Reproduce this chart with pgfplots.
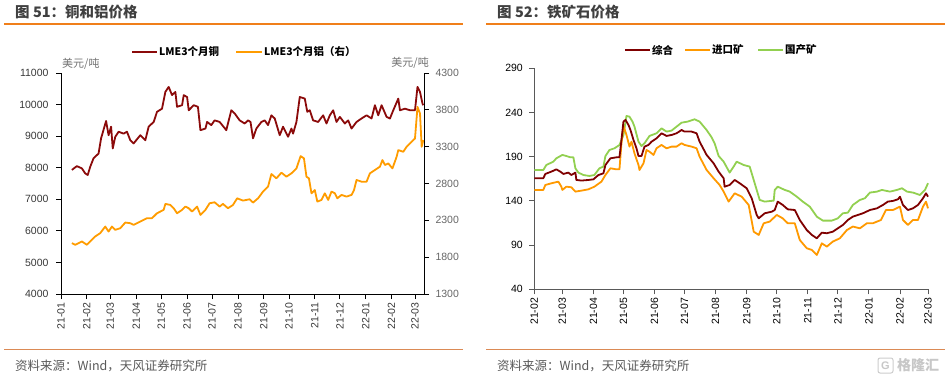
\documentclass[border=0pt]{standalone}
\usepackage{pgfplots}
\pgfplotsset{compat=1.18}
\usepackage{fontspec}
\setmainfont{Liberation Sans}
\newfontfamily\cjk{Noto Sans CJK SC}
\definecolor{cu}{HTML}{8B0A0A}
\definecolor{al}{HTML}{FF9C00}
\definecolor{zh}{HTML}{7F0000}
\definecolor{jk}{HTML}{FF9900}
\definecolor{gc}{HTML}{92D050}
\definecolor{ttl}{HTML}{404040}
\definecolor{rule}{HTML}{F07F1A}
\definecolor{rule2}{HTML}{DB8A55}
\definecolor{src}{HTML}{595959}
\pgfplotsset{
  base/.style={scale only axis, tick align=outside, major tick length=5pt,
    tick style={black, line width=0.8pt},
    axis line style={black, line width=0.9pt},
    ticklabel style={font=\fontsize{10.5}{12}\selectfont, text=black!78},
    scaled y ticks=false, scaled x ticks=false,
    /pgf/number format/assume math mode=true,
    /pgf/number format/1000 sep={},
    xticklabel style={rotate=90, anchor=east},
    clip=false},
}
\begin{document}
\begin{tikzpicture}[x=1pt,y=1pt]
\path[use as bounding box] (0,0) rectangle (950,378);
% ---------- titles and rules
\node[anchor=west, inner sep=0, text=ttl, font=\cjk\bfseries\fontsize{14.5}{16}\selectfont] at (15,366) {图 51：铜和铝价格};
\node[anchor=west, inner sep=0, text=ttl, font=\cjk\bfseries\fontsize{14.5}{16}\selectfont] at (497,366) {图 52：铁矿石价格};
\draw[rule, line width=1.3pt] (4,354) -- (463,354);
\draw[rule, line width=1.3pt] (486,354) -- (945,354);
\draw[rule2, line width=0.9pt] (4,29) -- (463,29);
\draw[rule2, line width=0.9pt] (486,29) -- (945,29);
\node[anchor=west, inner sep=0, text=src, font=\cjk\fontsize{12.5}{14}\selectfont] at (15,12) {资料来源：Wind，天风证券研究所};
\node[anchor=west, inner sep=0, text=src, font=\cjk\fontsize{12.5}{14}\selectfont] at (497,12) {资料来源：Wind，天风证券研究所};
% watermark
\draw[black!20, line width=1pt, rounded corners=2pt] (878,5) rectangle (893,20);
\node[text=black!22, font=\bfseries\fontsize{11}{12}\selectfont, inner sep=0] at (885.5,12.5) {G};
\node[anchor=west, inner sep=0, text=black!22, font=\cjk\bfseries\fontsize{14}{15}\selectfont] at (897,12.5) {格隆汇};
% ---------- legends
\draw[cu, line width=2.2pt] (132,326) -- (157,326);
\node[anchor=west, inner sep=0, font=\cjk\bfseries\fontsize{10.5}{12}\selectfont] at (159,326) {LME3个月铜};
\draw[al, line width=2.2pt] (236,326) -- (262,326);
\node[anchor=west, inner sep=0, font=\cjk\bfseries\fontsize{10.5}{12}\selectfont] at (264,326) {LME3个月铝（右）};
\draw[zh, line width=2.2pt] (625,328) -- (650,328);
\node[anchor=west, inner sep=0, font=\cjk\bfseries\fontsize{10.5}{12}\selectfont] at (652,328) {综合};
\draw[jk, line width=2.2pt] (685,328) -- (710,328);
\node[anchor=west, inner sep=0, font=\cjk\bfseries\fontsize{10.5}{12}\selectfont] at (712,328) {进口矿};
\draw[gc, line width=2.2pt] (758,328) -- (783,328);
\node[anchor=west, inner sep=0, font=\cjk\bfseries\fontsize{10.5}{12}\selectfont] at (785,328) {国产矿};
% units
\node[anchor=west, inner sep=0, text=black!55, font=\cjk\fontsize{11}{12}\selectfont] at (62,314) {美元/吨};
\node[anchor=east, inner sep=0, text=black!55, font=\cjk\fontsize{11}{12}\selectfont] at (429,315) {美元/吨};
% ---------- left panel: copper
\begin{axis}[base, at={(61pt,84pt)}, anchor=south west, width=363pt, height=221pt,
  xmin=0, xmax=434.8, ymin=4000, ymax=11000,
  ytick={4000,5000,...,11000},
  axis y line*=left, axis x line*=bottom,
  yticklabel style={xshift=-4pt},
  xtick={0,31,59,90,120,151,181,212,243,273,304,334,365,396,424},
  xticklabels={21-01,21-02,21-03,21-04,21-05,21-06,21-07,21-08,21-09,21-10,21-11,21-12,22-01,22-02,22-03}]
\addplot[cu, line width=1.8pt, line join=round] coordinates {
(13,7930)(19,8050)(25,7980)(29,7820)(32,7770)(35,8030)(39,8300)(45,8450)(48,8930)(54,9480)(57,9030)(60,9300)(62,8610)(65,8980)(69,9140)(75,9080)(79,9140)(83,8870)(87,8770)(95,9030)(101,8870)(105,9300)(111,9450)(115,9770)(121,9870)(125,10400)(129,10560)(133,10300)(137,10400)(139,9930)(145,9980)(147,10300)(151,10240)(153,9820)(159,9980)(164,9930)(167,9190)(173,9240)(175,9450)(180,9350)(184,9500)(190,9450)(198,9190)(204,9820)(208,9720)(214,9500)(220,9400)(224,9500)(227,9450)(230,8930)(234,9240)(240,9450)(244,9500)(248,9350)(252,9660)(256,9560)(262,9030)(266,9300)(272,8980)(276,9240)(278,9080)(282,9450)(286,10240)(292,10190)(295,9770)(298,9820)(302,9500)(308,9450)(314,9660)(318,9400)(322,9660)(326,9820)(330,9450)(334,9610)(340,9400)(344,9500)(348,9240)(354,9450)(360,9560)(366,9660)(372,9560)(376,9980)(380,9660)(384,9980)(390,9610)(394,9560)(398,9820)(404,10190)(406,9820)(412,9870)(418,9820)(424,9820)(427,10560)(430,10400)(433,10030)(434,9980)};
\end{axis}
\begin{axis}[base, at={(61pt,84pt)}, anchor=south west, width=363pt, height=221pt,
  xmin=0, xmax=434.8, ymin=1300, ymax=4300,
  ytick={1300,1800,...,4300},
  axis y line*=right, axis x line=none,
  yticklabel style={xshift=3pt, text=black!60}]
\addplot[al, line width=1.8pt, line join=round] coordinates {
(13,1990)(17,1968)(25,2013)(31,1968)(35,2013)(41,2081)(47,2126)(53,2216)(57,2148)(61,2216)(65,2171)(71,2193)(77,2270)(83,2261)(87,2238)(95,2284)(103,2329)(109,2329)(115,2396)(123,2442)(125,2523)(131,2509)(135,2464)(139,2396)(145,2442)(149,2487)(153,2464)(157,2419)(163,2487)(167,2374)(173,2442)(178,2532)(184,2545)(190,2487)(194,2523)(200,2464)(206,2509)(211,2599)(218,2568)(226,2586)(230,2541)(236,2599)(242,2690)(248,2757)(252,2929)(258,2870)(264,2947)(270,2893)(276,2938)(282,3005)(287,3172)(291,3141)(294,2893)(297,2870)(300,2667)(304,2712)(307,2554)(312,2577)(316,2667)(320,2577)(324,2690)(328,2667)(331,2599)(336,2645)(342,2622)(348,2645)(351,2712)(354,2848)(360,2825)(366,2825)(370,2938)(376,2983)(382,3028)(385,3118)(388,3051)(392,3073)(397,3005)(402,3163)(404,3253)(410,3231)(414,3299)(420,3366)(424,3411)(427,3840)(430,3750)(432,3299)(434,3389)};
\end{axis}
% ---------- right panel: iron ore
\begin{axis}[base, at={(534.3pt,88.7pt)}, anchor=south west, width=393.7pt, height=221pt,
  xmin=31, xmax=424, ymin=40, ymax=290,
  ytick={40,90,140,190,240,290},
  axis y line*=left, axis x line*=bottom,
  axis line style={black!65, line width=1.1pt},
  tick style={black!65, line width=0.9pt},
  ticklabel style={text=black},
  yticklabel style={xshift=-3pt},
  xtick={31,59,90,120,151,181,212,243,273,304,334,365,396,424},
  xticklabels={21-02,21-03,21-04,21-05,21-06,21-07,21-08,21-09,21-10,21-11,21-12,22-01,22-02,22-03}]
\addplot[gc, line width=1.8pt, line join=round] coordinates {
(31,175)(40,175)(43,180.6)(50,184.4)(53,188.2)(59,192)(63,190.8)(67,189.3)(70,189.3)(72,176.9)(75,172)(80,169.3)(86,168.2)(91,169.3)(96,176.9)(100,178.8)(102,190.8)(106,197.6)(111,199.5)(116,203.3)(120,214.6)(123,236.1)(126,235.3)(129,229.7)(131,224)(135,207)(138,202.1)(141,205.2)(146,213.5)(153,216.5)(158,222.1)(163,218.4)(168,219.5)(173,224)(178,228.5)(184,229.7)(191,232.3)(196,229.7)(203,220.2)(208,211.9)(211,205.2)(215,190.8)(220,184.4)(226,172)(230,178.8)(233,184.4)(240,180.6)(246,178.8)(251,160)(256,141.1)(261,139.2)(270,140.3)(271,152.4)(274,156.1)(281,152.4)(286,150.5)(293,144.8)(299,139.2)(306,133.5)(313,122.2)(319,117.7)(328,117.7)(334,120.3)(339,126)(344,126.7)(349,135.4)(356,141.1)(361,143)(366,149.4)(373,150.5)(378,152.4)(386,150.5)(393,152.4)(398,154.3)(403,150.5)(409,149.4)(416,146.7)(421,152.4)(424,160)};
\addplot[jk, line width=1.8pt, line join=round] coordinates {
(31,152.4)(40,152.4)(42,158)(48,159.9)(55,161.8)(58,156.1)(59,152.4)(63,156.1)(68,155.4)(72,150.5)(78,151.6)(85,153.1)(91,156.1)(98,161.8)(102,169.3)(107,176.9)(113,175.7)(116,175.7)(118,205.2)(120,224.8)(123,214.6)(126,201.4)(128,207)(131,193.8)(135,180.6)(136,175)(140,182.5)(143,197.6)(146,195.7)(150,192)(153,199.5)(158,203.3)(163,199.5)(168,201.4)(173,201.4)(178,205.2)(181,203.3)(188,201.4)(193,199.5)(196,190)(203,175)(210,165.6)(216,158)(220,150.5)(225,139.2)(231,148.6)(238,144.8)(245,135.4)(250,105.2)(255,101.5)(260,114.7)(266,116.6)(273,124.1)(279,120.3)(284,114.7)(291,114.7)(296,95.8)(303,86.4)(308,84.5)(313,78.8)(318,92)(323,88.3)(329,94)(336,97.7)(343,107)(349,111)(356,109)(363,114.7)(369,114.7)(377,118.4)(382,129.7)(389,129.7)(396,133.5)(399,118.4)(404,112.8)(409,118.4)(414,118.4)(419,133.5)(422,139.2)(424,131.6)};
\addplot[zh, line width=1.8pt, line join=round] coordinates {
(31,165.6)(40,165.6)(42,170.5)(48,173.1)(53,175.7)(57,173.1)(60,170.5)(65,172)(68,169.3)(72,172)(73,163.7)(78,163)(85,163.7)(90,164.4)(95,169.3)(100,171.2)(102,180.6)(107,188.2)(113,189.3)(116,189.3)(118,209)(120,229.7)(122,231.6)(125,225.9)(127,220.2)(130,209)(133,199.5)(135,190.8)(138,190.8)(141,201.4)(145,203.3)(148,207)(153,210.8)(158,216.5)(163,213.5)(168,214.6)(173,216.5)(178,220.2)(181,218.4)(188,218.4)(193,216.5)(196,207)(203,192)(210,182.5)(215,173.1)(220,165.6)(221,156.1)(226,158)(231,163.7)(236,160)(243,154.3)(248,143)(253,124.1)(255,120.3)(261,126)(268,127.8)(271,129.7)(274,139.2)(279,135.4)(284,130.5)(291,129.7)(296,118.4)(303,107)(308,101.5)(313,97.7)(318,104.1)(323,103.4)(329,105.2)(334,109)(339,112.8)(344,118.4)(349,122.2)(354,124.1)(359,126)(366,129.7)(373,131.6)(379,135.4)(384,139.2)(389,140)(394,141.8)(396,144.8)(399,135.4)(404,129.7)(409,131.6)(414,135.4)(419,143)(422,148.6)(424,144.8)};
\end{axis}
\end{tikzpicture}
\end{document}
